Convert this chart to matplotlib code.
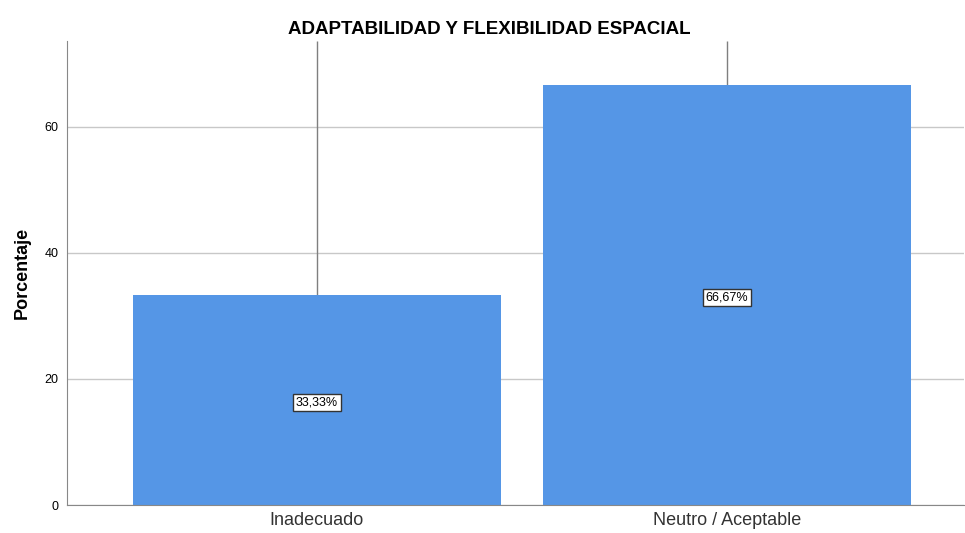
import matplotlib.pyplot as plt

plt.rcParams["font.family"] = ["Liberation Sans", "DejaVu Sans"]

# --------------------------------------------------------
#  Data
# --------------------------------------------------------
categories  = ["Inadecuado", "Neutro / Aceptable"]
percentages = [33.33, 66.67]
bar_labels  = ["33,33%", "66,67%"]
y_ticks     = [0, 20, 40, 60]

BAR_COLOR  = "#5596E6"
GRID_COLOR = "#C8C8C8"
Y_MAX      = 73.6

fig = plt.figure(figsize=(9.65, 5.33), dpi=100)
ax  = fig.add_axes([0.0694, 0.0525, 0.93, 0.8705])

x = list(range(len(categories)))
ax.bar(x, percentages, width=0.8976, color=BAR_COLOR, zorder=2)

# thin line from top of each bar to the top of the frame
ax.vlines(x, percentages, Y_MAX, color="#7F7F7F", linewidth=1.0, zorder=1)

for xi, val, lab in zip(x, percentages, bar_labels):
    ax.text(xi, val / 2 - 0.4, lab, ha="center", va="center", fontsize=9, zorder=3,
            bbox=dict(boxstyle="square,pad=0.2", facecolor="white",
                      edgecolor="#333333", linewidth=1.0))

ax.set_xlim(-0.61, 1.58)
ax.set_ylim(0, Y_MAX)
ax.set_yticks(y_ticks)
ax.set_xticks(x)
ax.set_xticklabels(categories, fontsize=13, color="#333333")
ax.tick_params(axis="y", length=0, labelsize=9, pad=6)
ax.tick_params(axis="x", length=0, pad=5)

ax.yaxis.grid(True, color=GRID_COLOR, linewidth=1.0, zorder=0)
ax.set_axisbelow(True)

for side in ("top", "right"):
    ax.spines[side].set_visible(False)
ax.spines["left"].set_color("#888888")
ax.spines["bottom"].set_color("#888888")

ax.set_ylabel("Porcentaje", fontsize=13, fontweight="bold", labelpad=10)
fig.suptitle("ADAPTABILIDAD Y FLEXIBILIDAD ESPACIAL", x=0.507, y=0.945,
             va="center", fontsize=13.5, fontweight="bold")

fig.savefig("out.png", dpi=100)
